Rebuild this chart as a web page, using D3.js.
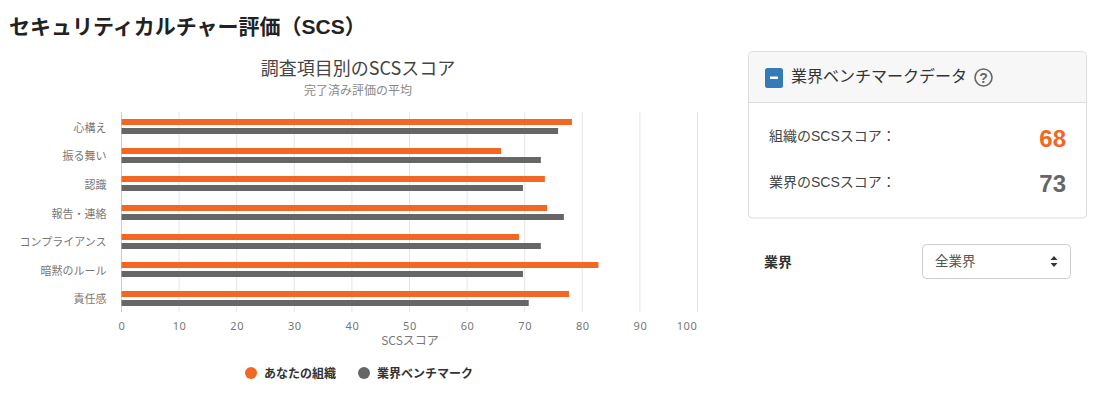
<!DOCTYPE html>
<html lang="ja">
<head>
<meta charset="utf-8">
<script src="https://cdn.jsdelivr.net/npm/d3@7"></script>
<style>
  html, body { margin: 0; padding: 0; background: #fff; }
  svg { display: block; }
  text { font-family: "Noto Sans CJK JP", "Noto Sans", sans-serif; }
  text.latin { font-family: "Liberation Sans", "Noto Sans CJK JP", sans-serif; }
</style>
</head>
<body>
<div class="main-container"></div>
<script>
const categories = ["心構え", "振る舞い", "認識", "報告・連絡", "コンプライアンス", "暗黙のルール", "責任感"];
const seriesNames = ["あなたの組織", "業界ベンチマーク"];
const orgValues = [78.2, 65.9, 73.5, 73.9, 69.0, 82.8, 77.7];
const benchValues = [75.8, 72.8, 69.7, 76.8, 72.8, 69.7, 70.7];
const xTicks = [0, 10, 20, 30, 40, 50, 60, 70, 80, 90, 100];

const orange = "#f26724";
const gray = "#666666";
const width = 1101;
const height = 395;

const svg = d3.select(".main-container")
    .append("svg")
    .attr("width", width)
    .attr("height", height);

svg.append("text")
    .attr("class", "latin")
    .attr("x", 9).attr("y", 34)
    .attr("font-size", 21).attr("font-weight", 700).attr("fill", "#222")
    .text("セキュリティカルチャー評価（SCS）");

// chart titles
svg.append("text")
    .attr("x", 358).attr("y", 75).attr("text-anchor", "middle")
    .attr("font-size", 18).attr("fill", "#444")
    .text("調査項目別のSCSスコア");
svg.append("text")
    .attr("x", 358).attr("y", 95).attr("text-anchor", "middle")
    .attr("font-size", 12).attr("fill", "#888")
    .text("完了済み評価の平均");

const x = d3.scaleLinear().domain([0, 100]).range([121.5, 697.5]);
const y = d3.scaleBand().domain(categories).range([112.4, 312.6]);
const inner = d3.scalePoint().domain(seriesNames).range([-4.5, 4.5]);
const barHeight = 6;

// grid
svg.append("g").selectAll("line")
    .data(xTicks)
    .enter()
    .append("line")
    .attr("x1", d => x(d)).attr("x2", d => x(d))
    .attr("y1", 112).attr("y2", 312)
    .attr("stroke", d => d === 0 ? "#c0d0e0" : "#e6e6e6");

const xAxis = svg.append("g")
    .attr("transform", "translate(0,312)")
    .call(d3.axisBottom(x).tickValues(xTicks).tickSize(0).tickPadding(10));
xAxis.select(".domain").remove();
xAxis.selectAll("text")
    .attr("font-size", 11).attr("fill", "#777").attr("letter-spacing", "0.6px")
    .style("font-family", '"Noto Sans", sans-serif')
    // last label is pushed back inside the plot
    .attr("dx", d => d === 100 ? -11 : 0);

const yAxis = svg.append("g")
    .attr("transform", "translate(121.5,1.5)")
    .call(d3.axisLeft(y).tickSize(0).tickPadding(15));
yAxis.select(".domain").remove();
yAxis.selectAll("text")
    .attr("font-size", 11).attr("fill", "#777");

const rows = [
    { name: seriesNames[0], values: orgValues, color: orange },
    { name: seriesNames[1], values: benchValues, color: gray }
];

rows.forEach(s => {
    svg.append("g").selectAll("rect")
        .data(categories)
        .enter()
        .append("rect")
        .attr("x", x(0))
        .attr("y", d => Math.round(y(d) + y.bandwidth() / 2 + inner(s.name) - barHeight / 2))
        .attr("width", (d, i) => x(s.values[i]) - x(0))
        .attr("height", barHeight)
        .attr("fill", s.color);
});

svg.append("text")
    .attr("x", 410).attr("y", 345).attr("text-anchor", "middle")
    .attr("font-size", 12).attr("fill", "#777")
    .text("SCSスコア");

// legend
const legendX = [251, 364];
rows.forEach((s, i) => {
    svg.append("circle")
        .attr("cx", legendX[i]).attr("cy", 373).attr("r", 6)
        .attr("fill", s.color);
    svg.append("text")
        .attr("x", legendX[i] + 13).attr("y", 377.5)
        .attr("font-size", 12).attr("font-weight", 700).attr("fill", "#333")
        .text(s.name);
});

// benchmark panel
const panel = svg.append("g");
panel.append("rect")
    .attr("x", 748.5).attr("y", 51.5).attr("width", 338).attr("height", 166.5).attr("rx", 4)
    .attr("fill", "#fff").attr("stroke", "#ddd");
panel.append("path")
    .attr("d", "M749,102V56a4,4 0 0 1 4,-4H1082a4,4 0 0 1 4,4V102Z")
    .attr("fill", "#f7f7f7");
panel.append("line")
    .attr("x1", 749).attr("x2", 1086).attr("y1", 102.5).attr("y2", 102.5)
    .attr("stroke", "#ddd");
panel.append("rect")
    .attr("x", 765).attr("y", 68).attr("width", 18).attr("height", 20).attr("rx", 2.5)
    .attr("fill", "#337ab7");
panel.append("rect")
    .attr("x", 770).attr("y", 76.5).attr("width", 8).attr("height", 2.5)
    .attr("fill", "#fff");
panel.append("text")
    .attr("x", 791).attr("y", 82)
    .attr("font-size", 16).attr("fill", "#333")
    .text("業界ベンチマークデータ");
panel.append("circle")
    .attr("cx", 983.5).attr("cy", 77.5).attr("r", 8.5)
    .attr("fill", "none").attr("stroke", "#666").attr("stroke-width", 1.6);
panel.append("text")
    .attr("class", "latin")
    .attr("x", 983.5).attr("y", 82.5).attr("text-anchor", "middle")
    .attr("font-size", 14).attr("font-weight", 700).attr("fill", "#666")
    .text("?");

panel.append("text")
    .attr("class", "latin")
    .attr("x", 769).attr("y", 141)
    .attr("font-size", 14).attr("fill", "#444")
    .text("組織のSCSスコア：");
panel.append("text")
    .attr("class", "latin")
    .attr("x", 769).attr("y", 187)
    .attr("font-size", 14).attr("fill", "#444")
    .text("業界のSCSスコア：");
panel.append("text")
    .attr("class", "latin")
    .attr("x", 1066).attr("y", 147).attr("text-anchor", "end")
    .attr("font-size", 24).attr("font-weight", 700).attr("fill", orange)
    .text("68");
panel.append("text")
    .attr("class", "latin")
    .attr("x", 1066).attr("y", 192).attr("text-anchor", "end")
    .attr("font-size", 24).attr("font-weight", 700).attr("fill", gray)
    .text("73");

// industry select
svg.append("text")
    .attr("x", 764).attr("y", 267)
    .attr("font-size", 14).attr("font-weight", 700).attr("fill", "#333")
    .text("業界");
svg.append("rect")
    .attr("x", 922.5).attr("y", 244.5).attr("width", 148).attr("height", 34).attr("rx", 4)
    .attr("fill", "#fff").attr("stroke", "#ccc");
svg.append("text")
    .attr("x", 935).attr("y", 265.5)
    .attr("font-size", 13.5).attr("fill", "#555")
    .text("全業界");
svg.append("path")
    .attr("d", "M1050.5,260L1054,256L1057.5,260ZM1050.5,263L1054,267L1057.5,263Z")
    .attr("fill", "#333");
</script>
</body>
</html>
